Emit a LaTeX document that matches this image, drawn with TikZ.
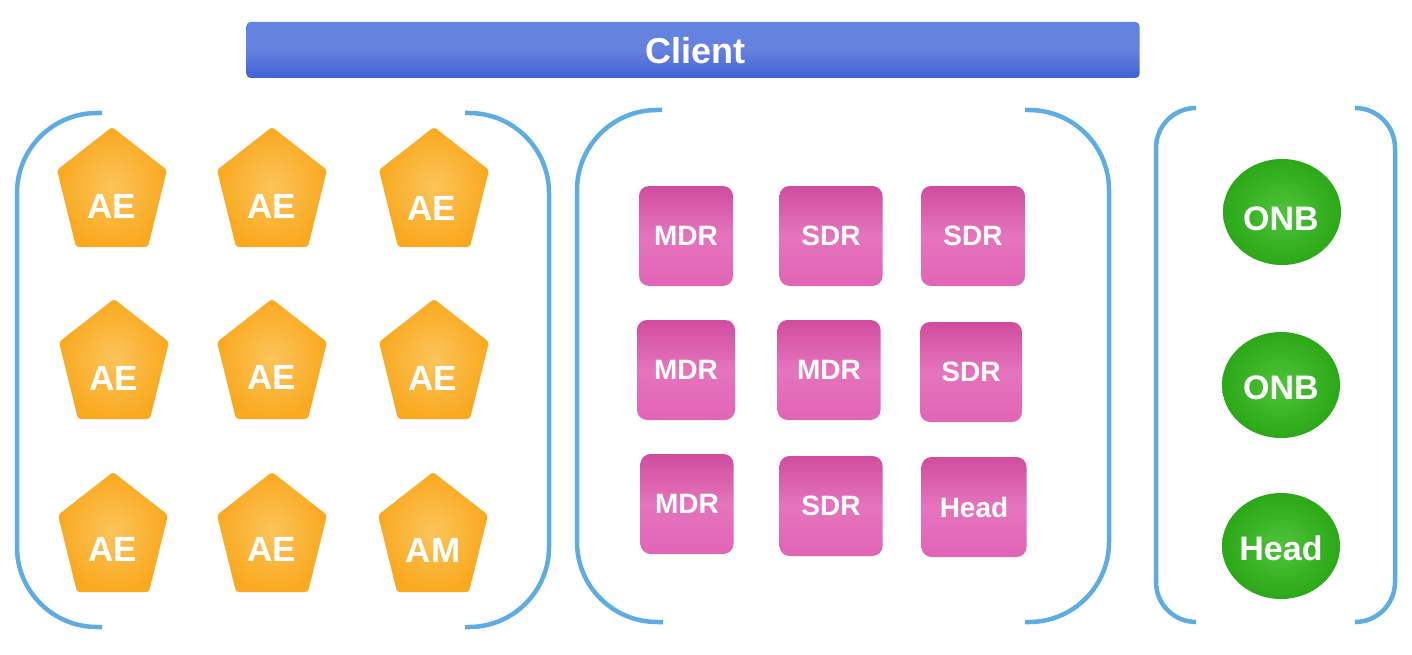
\documentclass[tikz,border=0pt]{standalone}
\usepackage{fontspec}
\setmainfont{Liberation Sans}
\usetikzlibrary{shapes.geometric}
\definecolor{brkc}{HTML}{5DADE2}
\definecolor{clientc}{HTML}{3F62D6}
\definecolor{clientl}{HTML}{6383E2}
\definecolor{orangec}{HTML}{F9A91F}
\definecolor{orangel}{HTML}{FCC45A}
\definecolor{pinkc}{HTML}{E264B6}
\definecolor{pinkd}{HTML}{D04C9E}
\definecolor{greenc}{HTML}{2BA818}
\definecolor{greenl}{HTML}{4EC438}
\begin{document}
\begin{tikzpicture}[x=1pt,y=-1pt,
  brk/.style={draw=brkc,line width=4.5pt,rounded corners=80pt},
  brks/.style={draw=brkc,line width=4.5pt,rounded corners=40pt},
  lbl/.style={text=white,inner sep=0pt,font=\bfseries\fontsize{35}{35}\selectfont},
  sqbox/.style={draw=none,rounded corners=10pt,minimum width=100pt,minimum height=100pt,
    inner sep=0pt,top color=pinkd,bottom color=pinkc,middle color=pinkc!90!white,
    text=white,font=\bfseries\fontsize{28}{28}\selectfont},
  circbox/.style={ellipse,draw=none,minimum width=118pt,minimum height=106pt,inner sep=0pt,
    inner color=greenl,outer color=greenc},
  glbl/.style={text=white,inner sep=0pt,font=\bfseries\fontsize{34}{34}\selectfont},
  pent/.pic={\shade[inner color=orangel,outer color=orangec,rounded corners=3pt]
    (0,-60) -- (55,-17) -- (36,60) -- (-36,60) -- (-55,-17) -- cycle;}
]
\useasboundingbox (0,0) rectangle (1412,655);

% Client bar
\node[draw=none,inner sep=0pt,minimum width=893pt,minimum height=56pt,rounded corners=4pt,
  top color=clientl,bottom color=clientc,middle color=clientc!80!white] (client) at (693,50) {};
\node[lbl,font=\bfseries\fontsize{36}{36}\selectfont] (clientt) at (695,51) {Client};

% brackets
\draw[brk] (102,113) -- (17,113) -- (17,627) -- (102,627);
\draw[brk] (465,113) -- (549,113) -- (549,627) -- (465,627);
\draw[brk] (662,110) -- (577,110) -- (577,622) -- (663,622);
\draw[brk] (1025,110) -- (1109,110) -- (1109,622) -- (1025,622);
\draw[brks] (1195,108) -- (1156,108) -- (1156,622) -- (1195,622);
\draw[brks] (1356,108) -- (1395,108) -- (1395,622) -- (1356,622);

% pentagons
\pic at (112,187) {pent};
\pic at (272,187) {pent};
\pic at (434,187) {pent};
\pic at (114,359) {pent};
\pic at (272,359) {pent};
\pic at (434,359) {pent};
\pic at (113,532) {pent};
\pic at (272,532) {pent};
\pic at (433,532) {pent};
\node[lbl] (ae1) at (112,206) {AE};
\node[lbl] (ae2) at (272,206) {AE};
\node[lbl] (ae3) at (432,208) {AE};
\node[lbl] (ae4) at (114,378) {AE};
\node[lbl] (ae5) at (272,377) {AE};
\node[lbl] (ae6) at (433,378) {AE};
\node[lbl] (ae7) at (113,549) {AE};
\node[lbl] (ae8) at (272,549) {AE};
\node[lbl] (am) at (433,550) {AM};

% pink squares
\node[sqbox,minimum width=94pt] (mdr1) at (686,236) {MDR};
\node[sqbox,minimum width=103pt] (sdr1) at (831,236) {SDR};
\node[sqbox,minimum width=104pt] (sdr2) at (973,236) {SDR};
\node[sqbox,minimum width=98pt] (mdr2) at (686,370) {MDR};
\node[sqbox,minimum width=103pt] (mdr3) at (829,370) {MDR};
\node[sqbox,minimum width=102pt] (sdr3) at (971,372) {SDR};
\node[sqbox,minimum width=93pt] (mdr4) at (687,504) {MDR};
\node[sqbox,minimum width=103pt] (sdr4) at (831,506) {SDR};
\node[sqbox,minimum width=105pt] (head1) at (974,507) {Head};

% green circles
\node[circbox] (onb1) at (1282,212) {};
\node[circbox] (onb2) at (1281,385) {};
\node[circbox] (head2) at (1281,546) {};
\node[glbl] (onb1t) at (1281,219) {ONB};
\node[glbl] (onb2t) at (1281,388) {ONB};
\node[glbl] (head2t) at (1281,548) {Head};
\end{tikzpicture}
\end{document}
